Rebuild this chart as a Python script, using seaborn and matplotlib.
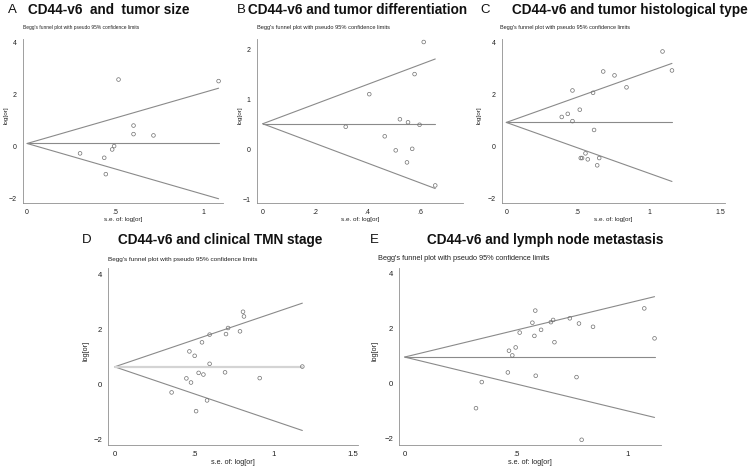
"""
Begg's funnel plots for CD44-v6 meta-analysis (five subgroups, A-E).
"""

import numpy as np
import pandas as pd
import matplotlib
matplotlib.use('Agg')
import matplotlib.pyplot as plt
import seaborn as sns

# --- data (s.e. of log[or], log[or]) ---
se_a = [0.30, 0.437, 0.446, 0.482, 0.493, 0.518, 0.603, 0.603, 0.716, 1.085]
lor_a = [-0.28, -0.45, -1.08, -0.13, 0.00, 2.56, 0.79, 0.46, 0.41, 2.50]
pooled_a = 0.10

se_b = [0.317, 0.407, 0.466, 0.508, 0.524, 0.551, 0.555, 0.571, 0.58, 0.599, 0.615, 0.659]
lor_b = [0.45, 1.10, 0.26, -0.02, 0.60, -0.26, 0.54, 0.01, 1.50, 0.49, 2.14, -0.72]
pooled_b = 0.51

se_c = [0.388, 0.43, 0.463, 0.463, 0.514, 0.521, 0.53, 0.554, 0.57, 0.607,
        0.614, 0.636, 0.65, 0.678, 0.757, 0.841, 1.093, 1.159]
lor_c = [1.12, 1.24, 2.14, 0.96, 1.40, -0.46, -0.46, -0.28, -0.51, 2.05,
         0.62, -0.74, -0.46, 2.87, 2.72, 2.26, 3.64, 2.91]
pooled_c = 0.91

se_d = [0.358, 0.451, 0.47, 0.48, 0.503, 0.512, 0.528, 0.549, 0.558, 0.581,
        0.597, 0.597, 0.694, 0.70, 0.713, 0.788, 0.807, 0.813, 0.912, 1.18]
lor_d = [-0.29, 0.22, 1.20, 0.07, 1.04, -0.97, 0.42, 1.53, 0.36, -0.58,
         1.81, 0.75, 0.44, 1.83, 2.05, 1.93, 2.64, 2.47, 0.23, 0.65]
pooled_d = 0.64

se_e = [0.32, 0.346, 0.463, 0.468, 0.483, 0.498, 0.516, 0.573, 0.582, 0.586, 0.588,
        0.612, 0.656, 0.666, 0.672, 0.741, 0.771, 0.782, 0.794, 0.845, 1.075, 1.121]
lor_e = [-0.90, 0.05, 0.40, 1.19, 1.02, 1.31, 1.85, 2.21, 1.73, 2.65, 0.28,
         1.95, 2.23, 2.31, 1.50, 2.37, 0.23, 2.18, -2.05, 2.06, 2.73, 1.64]
pooled_e = 0.96

letters = ['A', 'B', 'C', 'D', 'E']
titles = ['CD44-v6  and  tumor size',
          'CD44-v6 and tumor differentiation',
          'CD44-v6 and tumor histological type',
          'CD44-v6 and clinical TMN stage',
          'CD44-v6 and lymph node metastasis']
subtitle = "Begg's funnel plot with pseudo 95% confidence limits"
xlabels = ['s.e. of: log[or]'] * 5
xtick_vals = [[0, 0.5, 1], [0, 0.2, 0.4, 0.6], [0, 0.5, 1, 1.5], [0, 0.5, 1, 1.5], [0, 0.5, 1]]
xtick_text = [['0', '.5', '1'], ['0', '.2', '.4', '.6'], ['0', '.5', '1', '1.5'],
              ['0', '.5', '1', '1.5'], ['0', '.5', '1']]
ytick_vals = [[-2, 0, 2, 4], [-1, 0, 1, 2], [-2, 0, 2, 4], [-2, 0, 2, 4], [-2, 0, 2, 4]]

W, H = 750, 468
LINE = '#8a8a8a'
AXC = '#8f8f8f'

sns.set_style('white')
plt.rcParams['font.family'] = ['Liberation Sans', 'DejaVu Sans']
NARROW = ['Liberation Sans Narrow', 'Liberation Sans', 'DejaVu Sans']


def rect(x0, x1, y0, y1):
    return [x0 / W, 1 - y1 / H, (x1 - x0) / W, (y1 - y0) / H]


def funnel(ax, se, lor, pooled, center_style):
    df = pd.DataFrame({'se': se, 'lor': lor})
    se_max = df['se'].max()
    z = 1.96
    bounds = pd.DataFrame({
        'se': [0, se_max, 0, se_max],
        'lor': [pooled, pooled + z * se_max, pooled, pooled - z * se_max],
        'grp': ['up', 'up', 'lo', 'lo'],
    })
    center = pd.DataFrame({'se': [0, se_max], 'lor': [pooled, pooled]})
    sns.lineplot(data=bounds, x='se', y='lor', units='grp', estimator=None,
                 color=LINE, lw=0.8, ax=ax)
    sns.lineplot(data=center, x='se', y='lor', ax=ax, **center_style)
    sns.scatterplot(data=df, x='se', y='lor', s=7, marker='o', facecolors='none',
                    edgecolor='#707070', linewidth=0.5, ax=ax, zorder=3)


fig = plt.figure(figsize=(W / 100, H / 100), dpi=100)

panels = [
    # axes box in px, limits, text anchors in px, font sizes
    dict(box=(22.7, 223, 39, 203), xlim=(-0.025, 1.11), ylim=(-2.19, 4.12),
         tx=28, lx=8, ty=10, sx=22.7, sy=28, ylx=6, xly=220, sub=3.5, tick=5.0,
         center=dict(color=LINE, lw=0.8)),
    dict(box=(256.7, 463, 39, 203), xlim=(-0.023, 0.765), ylim=(-1.07, 2.2),
         tx=248, lx=237, ty=10, sx=256.7, sy=28, ylx=240, xly=220, sub=4.05, tick=5.0,
         center=dict(color=LINE, lw=0.8)),
    dict(box=(502, 725, 39, 203), xlim=(-0.03, 1.53), ylim=(-2.19, 4.12),
         tx=512, lx=480, ty=10, sx=500, sy=28, ylx=479, xly=220, sub=4.0, tick=5.0,
         center=dict(color=LINE, lw=0.8)),
    dict(box=(108.3, 358, 268, 445), xlim=(-0.04, 1.53), ylim=(-2.2, 4.23),
         tx=118, lx=82, ty=240, sx=108.3, sy=259, ylx=86, xly=462, sub=4.55, tick=5.6,
         center=dict(color='#d4d4d4', lw=1.6)),
    dict(box=(399.3, 661, 268, 445), xlim=(-0.024, 1.15), ylim=(-2.24, 4.2),
         tx=427, lx=370, ty=240, sx=378, sy=259, ylx=375, xly=462, sub=5.3, tick=5.6,
         center=dict(color=LINE, lw=0.8)),
]

data = [(se_a, lor_a, pooled_a), (se_b, lor_b, pooled_b), (se_c, lor_c, pooled_c),
        (se_d, lor_d, pooled_d), (se_e, lor_e, pooled_e)]

for i, p in enumerate(panels):
    x0, x1, y0, y1 = p['box']
    ax = fig.add_axes(rect(x0, x1, y0, y1))
    se, lor, pooled = data[i]
    funnel(ax, se, lor, pooled, p['center'])
    ax.set_xlim(*p['xlim'])
    ax.set_ylim(*p['ylim'])
    ax.set_xticks(xtick_vals[i])
    ax.set_xticklabels(xtick_text[i], family=NARROW)
    ax.set_yticks(ytick_vals[i])
    ax.set_yticklabels([str(v).replace('-', '\u2212') for v in ytick_vals[i]], family=NARROW)
    ax.tick_params(direction='out', length=3, width=0.5, color=AXC, pad=1.5,
                   labelsize=p['tick'], labelcolor='#222222')
    ax.set_xlabel('')
    ax.set_ylabel('')
    for side in ['top', 'right']:
        ax.spines[side].set_visible(False)
    for side in ['left', 'bottom']:
        ax.spines[side].set_color(AXC)
        ax.spines[side].set_linewidth(0.6)
    if ax.get_legend() is not None:
        ax.get_legend().remove()

    fig.text(p['lx'] / W, 1 - p['ty'] / H, letters[i], fontsize=9.5,
             ha='left', va='center', color='#111111')
    fig.text(p['tx'] / W, 1 - p['ty'] / H, titles[i], fontsize=9.8, fontweight='bold',
             ha='left', va='center', color='#111111')
    fig.text(p['sx'] / W, 1 - p['sy'] / H, subtitle, fontsize=p['sub'], family=NARROW,
             ha='left', va='center', color='#222222')
    fig.text(p['ylx'] / W, 1 - ((y0 + y1) / 2 - 6) / H, 'log[or]', fontsize=p['tick'] - 0.4,
             family=NARROW, rotation=90, ha='center', va='center', color='#222222')
    fig.text((x0 + x1) / 2 / W, 1 - p['xly'] / H, xlabels[i], fontsize=p['tick'] - 0.4,
             family=NARROW, ha='center', va='center', color='#222222')

fig.savefig('out.png', dpi=100, facecolor='white')
plt.close(fig)
